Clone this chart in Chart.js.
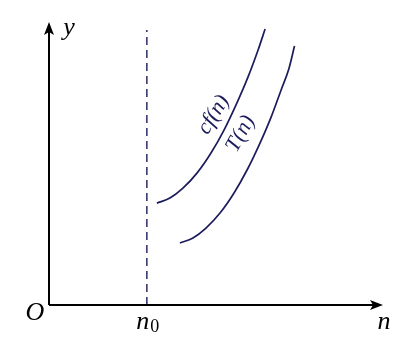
<!DOCTYPE html>
<html>
<head>
<meta charset="utf-8">
<script src="https://cdn.jsdelivr.net/npm/chart.js@4"></script>
<style>
  html, body { margin: 0; padding: 0; background: #fff; }
  #wrap { width: 407px; height: 339px; }
</style>
</head>
<body>
<div id="wrap"><canvas id="chart"></canvas></div>
<script>
// curve values (axis units 0..10)
const cfX = [3.23, 3.62, 4.01, 4.43, 4.85, 5.24, 5.60, 5.96, 6.26, 6.47];
const cfY = [3.60, 3.78, 4.13, 4.66, 5.37, 6.18, 7.07, 8.06, 9.01, 9.75];
const tX = [3.92, 4.31, 4.70, 5.12, 5.54, 5.93, 6.29, 6.65, 6.95, 7.18, 7.35];
const tY = [2.19, 2.37, 2.72, 3.25, 3.96, 4.77, 5.65, 6.64, 7.60, 8.34, 9.15];
const n0 = 2.93;
const n0Top = 9.72;

const curveColor = '#1c1c5c';
const serif = '"Liberation Serif", "Times New Roman", serif';

function pts(xs, ys) {
    return xs.map((x, i) => ({ x: x, y: ys[i] }));
}

const axesPlugin = {
    id: 'axesPlugin',
    afterDraw(chart) {
        const ctx = chart.ctx;
        const xs = chart.scales.x, ys = chart.scales.y;
        const x0 = xs.getPixelForValue(0), y0 = ys.getPixelForValue(0);
        const xEnd = xs.getPixelForValue(10), yEnd = ys.getPixelForValue(10);
        ctx.save();
        ctx.strokeStyle = '#000';
        ctx.fillStyle = '#000';
        ctx.lineWidth = 2;
        ctx.beginPath();
        ctx.moveTo(x0, y0);
        ctx.lineTo(x0, yEnd + 8);
        ctx.moveTo(x0, y0);
        ctx.lineTo(xEnd - 8, y0);
        ctx.stroke();
        // arrow heads
        ctx.beginPath();
        ctx.moveTo(x0, yEnd);
        ctx.lineTo(x0 - 5, yEnd + 13);
        ctx.lineTo(x0, yEnd + 10);
        ctx.lineTo(x0 + 5, yEnd + 13);
        ctx.closePath();
        ctx.fill();
        ctx.beginPath();
        ctx.moveTo(xEnd, y0);
        ctx.lineTo(xEnd - 13, y0 - 5);
        ctx.lineTo(xEnd - 10, y0);
        ctx.lineTo(xEnd - 13, y0 + 5);
        ctx.closePath();
        ctx.fill();

        ctx.textAlign = 'center';
        ctx.textBaseline = 'middle';
        ctx.font = 'italic 26px ' + serif;
        ctx.fillText('y', x0 + 20, yEnd + 6);
        ctx.fillText('O', x0 - 14, y0 + 8);
        ctx.fillText('n', xEnd + 1, y0 + 17);
        const nx = xs.getPixelForValue(n0);
        ctx.fillText('n', nx - 4, y0 + 17);
        ctx.font = '18px ' + serif;
        ctx.fillText('0', nx + 8, y0 + 22);

        // curve labels
        ctx.fillStyle = curveColor;
        ctx.font = 'italic 22px ' + serif;
        ctx.save();
        ctx.translate(xs.getPixelForValue(4.93), ys.getPixelForValue(6.72));
        ctx.rotate(-58 * Math.PI / 180);
        ctx.fillText('cf(n)', 0, 0);
        ctx.restore();
        ctx.save();
        ctx.translate(xs.getPixelForValue(5.74), ys.getPixelForValue(6.05));
        ctx.rotate(-61 * Math.PI / 180);
        ctx.fillText('T(n)', 0, 0);
        ctx.restore();
        ctx.restore();
    }
};

new Chart(document.getElementById('chart'), {
    type: 'scatter',
    data: {
        datasets: [
            {
                label: 'cf(n)',
                data: pts(cfX, cfY),
                showLine: true,
                borderColor: curveColor,
                borderWidth: 1.7,
                cubicInterpolationMode: 'monotone',
                pointRadius: 0
            },
            {
                label: 'T(n)',
                data: pts(tX, tY),
                showLine: true,
                borderColor: curveColor,
                borderWidth: 1.7,
                cubicInterpolationMode: 'monotone',
                pointRadius: 0
            },
            {
                label: 'n0',
                data: [{ x: n0, y: 0 }, { x: n0, y: n0Top }],
                showLine: true,
                borderColor: curveColor,
                borderWidth: 1.4,
                borderDash: [8, 5],
                pointRadius: 0
            }
        ]
    },
    options: {
        responsive: true,
        maintainAspectRatio: false,
        animation: false,
        layout: { padding: { left: 49, right: 24, top: 22, bottom: 34 } },
        plugins: { legend: { display: false }, tooltip: { enabled: false } },
        scales: {
            x: { type: 'linear', min: 0, max: 10, display: false },
            y: { type: 'linear', min: 0, max: 10, display: false }
        }
    },
    plugins: [axesPlugin]
});
</script>
</body>
</html>
